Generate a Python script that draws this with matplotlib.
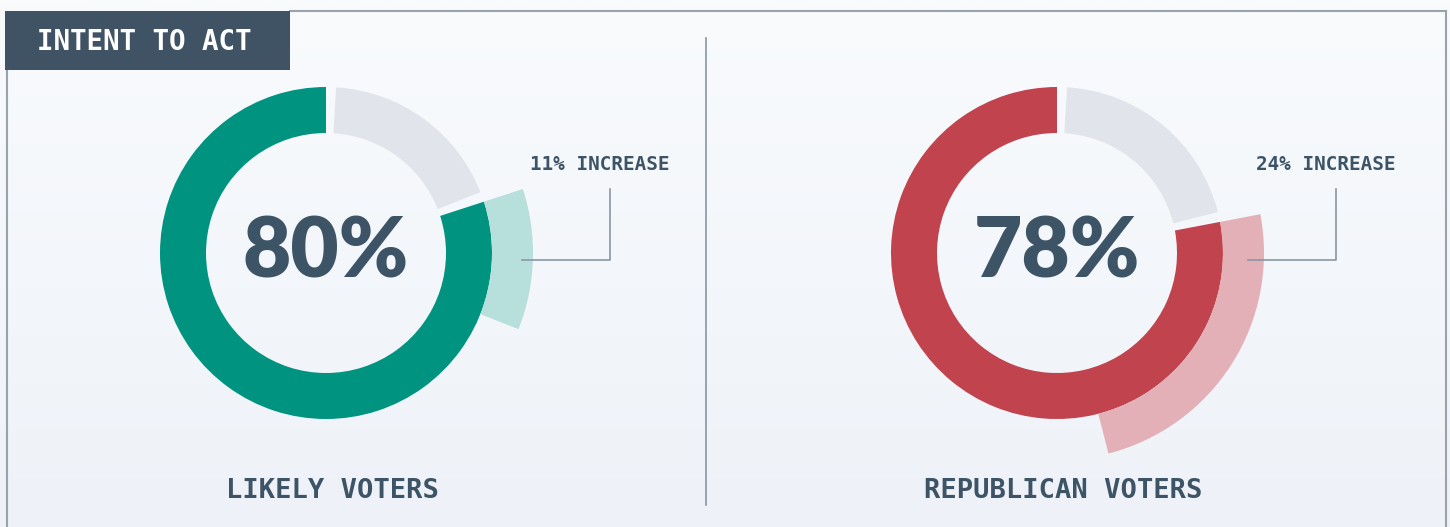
import numpy as np
import matplotlib
matplotlib.use("Agg")
import matplotlib.pyplot as plt
from matplotlib.patches import Wedge, Rectangle
from matplotlib.colors import LinearSegmentedColormap

# ---- data ----
title = "INTENT TO ACT"
groups = ["LIKELY VOTERS", "REPUBLICAN VOTERS"]
intent_pct = [80, 78]
increase_pct = [11, 24]
main_colors = ["#00937f", "#c0434d"]
light_colors = ["#b7dfdc", "#e2b0b6"]

# ---- layout (pixels, y measured from top) ----
W, H = 1450, 527
centers_x = [326, 1057]
label_x = [530, 1256]
leader_x0 = [522, 1248]
leader_x1 = [610, 1336]
center_y = 253
r_out, ring_w = 166, 46
inc_out = 207
gap_deg = 3.5
DARK = "#3d5366"
GRAY = "#e1e5eb"
LINE = "#8a96a3"


def Y(y):
    return H - y


fig = plt.figure(figsize=(W / 100, H / 100), dpi=100)
ax = fig.add_axes([0, 0, 1, 1])
ax.set_xlim(0, W)
ax.set_ylim(0, H)
ax.axis("off")

# background gradient
cmap = LinearSegmentedColormap.from_list("bg", ["#eef2f8", "#f9fbfd"])
grad = np.linspace(0, 1, 256).reshape(-1, 1)
ax.imshow(grad, extent=[0, W, 0, H], origin="lower", cmap=cmap, aspect="auto", zorder=0)

# frame
ax.plot([290, 1446], [Y(11), Y(11)], color="#9aa3ad", lw=1.5, zorder=1)
ax.plot([7, 7], [Y(70), 0], color="#9aa3ad", lw=1.5, zorder=1)
ax.plot([1446, 1446], [Y(11), 0], color="#9aa3ad", lw=1.5, zorder=1)

# title box
ax.add_patch(Rectangle((5, Y(70)), 285, 59, facecolor="#3f5364", edgecolor="none", zorder=3))
ax.text(37, Y(42.5), title, color="white", fontsize=19.8, fontweight="bold",
        family="DejaVu Sans Mono", ha="left", va="center", zorder=4)

# separator
ax.plot([706, 706], [Y(38), Y(505)], color=LINE, lw=1.2, zorder=1)

for i in range(2):
    cx, cy = centers_x[i], Y(center_y)
    p = intent_pct[i]
    inc = increase_pct[i]
    main_span = p * 3.6
    rest_span = (100 - p) * 3.6
    # main value: counter-clockwise from top
    ax.add_patch(Wedge((cx, cy), r_out, 90, 90 + main_span, width=ring_w,
                       facecolor=main_colors[i], edgecolor="none", zorder=2))
    # remainder: clockwise from top, with small gaps
    ax.add_patch(Wedge((cx, cy), r_out, 90 - rest_span + gap_deg, 90 - gap_deg, width=ring_w,
                       facecolor=GRAY, edgecolor="none", zorder=2))
    # increase: outside ring, following the remainder
    t_end = 90 - rest_span
    t_start = t_end - inc * 3.6
    ax.add_patch(Wedge((cx, cy), inc_out, t_start, t_end, width=inc_out - r_out,
                       facecolor=light_colors[i], edgecolor="none", zorder=2))
    # big number
    ax.text(cx, Y(252.5), f"{p}%", color=DARK, fontsize=60, fontweight="heavy",
            family=["Lato", "Roboto", "DejaVu Sans"], ha="center", va="center", zorder=4)
    # increase label + leader
    ax.plot([leader_x0[i], leader_x1[i], leader_x1[i]], [Y(260), Y(260), Y(189)],
            color=LINE, lw=1.2, zorder=3)
    ax.text(label_x[i], Y(165), f"{inc}% INCREASE", color=DARK, fontsize=13.9,
            fontweight="bold", family="DejaVu Sans Mono", ha="left", va="center", zorder=4)
    # group label
    ax.text(cx + 6, Y(491), groups[i], color=DARK, fontsize=19.5, fontweight="bold",
            family="DejaVu Sans Mono", ha="center", va="center", zorder=4)

fig.savefig("out.png", dpi=100)
